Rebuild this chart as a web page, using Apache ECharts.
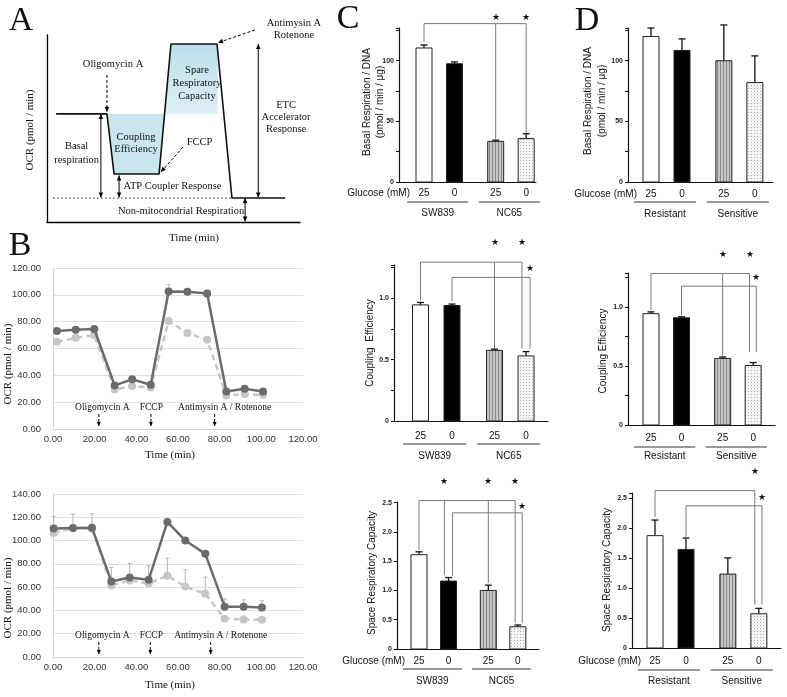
<!DOCTYPE html>
<html><head><meta charset="utf-8">
<script src="https://cdn.jsdelivr.net/npm/echarts@6/dist/echarts.min.js"></script>
<style>html,body{margin:0;padding:0;background:#fff}#c{width:787px;height:697px}</style>
</head><body><div id="c"></div><script>
// ---------------- DATA ----------------
// Panel A : schematic trace (arbitrary units)
const A_time = [3.6, 23.7, 26.5, 44.3, 49, 67.2, 73.1, 94.1];
const A_ocr  = [57.8, 57.8, 25.7, 25.7, 95.2, 95.2, 12.8, 12.8];

// Panel B (top)
const B1_time  = [1.9, 10.9, 19.8, 29.6, 38, 46.9, 55.5, 64.5, 74, 83.2, 92, 100.8];
const B1_dark  = [73, 74, 74.5, 32.5, 37, 33, 102.5, 102.3, 101, 28, 30, 28];
const B1_light = [65, 68, 70, 29.5, 32, 31, 80.5, 71.5, 66.5, 25, 26, 25.5];
const B1_darkErr  = [0, 0, 0, 0, 0, 0, 5, 0, 0, 0, 0, 0];
const B1_lightErr = [0, 0, 0, 0, 0, 0, 0, 0, 0, 0, 0, 0];
// Panel B (bottom)
const B2_time  = [0.3, 9.6, 18.7, 28, 36.8, 45.9, 54.9, 63.5, 73.1, 82.4, 91.5, 100.3];
const B2_dark  = [110.3, 110.9, 111.1, 64.9, 68.3, 66.3, 116, 100, 88.6, 43.1, 43.1, 42.6];
const B2_light = [106.6, 110.5, 110.3, 61.4, 65.7, 63.1, 69.7, 60.6, 54.3, 32.9, 32.3, 32];
const B2_darkErr  = [10.6, 12, 12, 12, 12, 12, 0, 0, 0, 6.6, 6, 5.7];
const B2_lightErr = [0, 0, 0, 0, 0, 0, 15, 14.3, 14.3, 0, 0, 0];
const injections = ['Oligomycin A', 'FCCP', 'Antimysin A / Rotenone'];
const B1_injTime = [22, 47, 77.6], B1_injLabel = [23.7, 47.2, 82.4];
const B2_injTime = [22, 46.7, 75.7], B2_injLabel = [23.7, 47.2, 80.5];

// Panels C / D
const barPos = [0, 1, 2.35, 3.35];
const glucose = ['25', '0', '25', '0'];
const groupsC = ['SW839', 'NC65'];
const groupsD = ['Resistant', 'Sensitive'];
const C_basal = [110.5, 97.5, 33.5, 35.8],   C_basalErr = [2.5, 1.5, 1, 4];
const C_coup  = [0.945, 0.94, 0.575, 0.53],  C_coupErr  = [0.02, 0.012, 0.01, 0.035];
const C_spare = [1.61, 1.16, 1.0, 0.38],     C_spareErr = [0.05, 0.06, 0.09, 0.03];
const D_basal = [120, 108.5, 100, 82],       D_basalErr = [7, 9.5, 29.5, 22];
const D_coup  = [0.945, 0.91, 0.565, 0.505], D_coupErr  = [0.015, 0.008, 0.012, 0.025];
const D_spare = [1.87, 1.64, 1.23, 0.57],    D_spareErr = [0.26, 0.19, 0.27, 0.09];
// significance brackets: x positions (bar units), level, drop ends
const C_basalBr = [{level: 130.6, xs: [0, 2.35, 3.35], ends: [115.7, 35.5, 40.5]}];
const C_basalStars = [[2.35, 136], [3.35, 136]];
const C_coupBr = [{level: 1.293, xs: [0, 2.35, 3.22], ends: [0.984, 0.589, 0.59]},
                  {level: 1.169, xs: [1, 3.48], ends: [0.976, 0.59]}];
const C_coupStars = [[2.35, 1.45], [3.22, 1.45], [3.48, 1.24]];
const C_spareBr = [{level: 2.535, xs: [0, 0.86, 2.35, 3.26], ends: [1.69, 1.265, 1.128, 0.44]},
                   {level: 2.325, xs: [1.14, 3.5], ends: [1.25, 0.44]}];
const C_spareStars = [[0.86, 2.855], [2.35, 2.855], [3.26, 2.855], [3.5, 2.44]];
const D_coupBr = [{level: 1.286, xs: [0, 2.35, 3.23], ends: [0.975, 0.585, 0.62]},
                  {level: 1.178, xs: [1, 3.45], ends: [0.932, 0.62]}];
const D_coupStars = [[2.35, 1.449], [3.23, 1.449], [3.45, 1.254]];
const D_spareBr = [{level: 2.62, xs: [0, 3.22], ends: [2.18, 0.72]},
                   {level: 2.367, xs: [1, 3.45], ends: [1.85, 0.72]}];
const D_spareStars = [[3.22, 2.93], [3.45, 2.5]];

// ---------------- HELPERS ----------------
const SANS = '"Liberation Sans", Arial, sans-serif';
const SERIF = '"Liberation Serif", "Times New Roman", serif';
const chart = echarts.init(document.getElementById('c'));
const zip = (a, b) => a.map((v, i) => [v, b[i]]);

function mkPattern(draw, w, h) {
  const c = document.createElement('canvas'); c.width = w; c.height = h;
  draw(c.getContext('2d')); return c;
}
const stripe = mkPattern(g => { g.fillStyle = '#c6c6c6'; g.fillRect(0, 0, 3, 3); g.fillStyle = '#8a8a8a'; g.fillRect(0, 0, 1, 3); }, 3, 3);
const dots = mkPattern(g => { g.fillStyle = '#f5f5f5'; g.fillRect(0, 0, 3, 3); g.fillStyle = '#b0b0b0'; g.fillRect(1, 1, 1, 1); }, 3, 3);
const barFills = ['#ffffff', '#000000', {image: stripe, repeat: 'repeat'}, {image: dots, repeat: 'repeat'}];

function txt(s, x, y, size, align, family, opts) {
  opts = opts || {};
  return {type: 'text', x, y, rotation: opts.rot || 0, silent: true,
    style: {text: s, fill: opts.color || '#111',
      font: (opts.weight || 'normal') + ' ' + size + 'px ' + (family || SANS),
      align: align || 'center', verticalAlign: 'middle',
      textAlign: align || 'center', textVerticalAlign: 'middle'}};
}
function seg(x1, y1, x2, y2, color, w, dash) {
  return {type: 'line', silent: true, shape: {x1, y1, x2, y2},
    style: {stroke: color || '#000', lineWidth: w || 1, lineDash: dash || null}};
}
function arrowEls(p1, p2, o) {
  o = o || {};
  const color = o.color || '#000';
  const els = [seg(p1[0], p1[1], p2[0], p2[1], color, o.w || 1, o.dash ? [3, 2] : null)];
  const head = (tip, from) => {
    const dx = tip[0] - from[0], dy = tip[1] - from[1], L = Math.hypot(dx, dy) || 1;
    const ux = dx / L, uy = dy / L, hl = o.hl || 5, hw = o.hw || 2.3;
    const bx = tip[0] - ux * hl, by = tip[1] - uy * hl;
    return {type: 'polygon', silent: true, shape: {points: [[tip[0], tip[1]], [bx - uy * hw, by + ux * hw], [bx + uy * hw, by - ux * hw]]}, style: {fill: color}};
  };
  if (o.end !== false) els.push(head(p2, p1));
  if (o.start) els.push(head(p1, p2));
  return els;
}
function annSeries(gi, build, z) {
  return {type: 'custom', xAxisIndex: gi, yAxisIndex: gi, clip: false, silent: true, z: z || 6,
    data: [[0, 0]], renderItem: (p, api) => ({type: 'group', children: build(api)})};
}

// ---------------- LAYOUT ----------------
const grids = [
  {left: 47, top: 35, width: 253, height: 187},   // 0 A
  {left: 53, top: 268, width: 250, height: 161},  // 1 B top
  {left: 53, top: 494, width: 250, height: 163},  // 2 B bottom
  {left: 399, top: 28, width: 137, height: 154},  // 3 C basal
  {left: 394, top: 265, width: 154, height: 156}, // 4 C coupling
  {left: 397, top: 502, width: 142, height: 147}, // 5 C spare
  {left: 628, top: 28, width: 145, height: 154},  // 6 D basal
  {left: 628, top: 273, width: 147, height: 152}, // 7 D coupling
  {left: 632, top: 493, width: 149, height: 155}  // 8 D spare
];
const barX = {3: [424, 30.5], 4: [420.5, 31.5], 5: [419, 29.5], 6: [651, 31], 7: [651, 30.5], 8: [655, 31]};
const barY = {3: [127, 25, 50], 4: [1.27, 0.25, 0.5], 5: [2.51, 0.5, 0.5], 6: [127, 25, 50], 7: [1.29, 0.25, 0.5], 8: [2.58, 0.5, 0.5]};

const xAxes = [], yAxes = [];
const hidden = {axisTick: {show: false}, axisLabel: {show: false}, splitLine: {show: false}};
xAxes.push(Object.assign({gridIndex: 0, type: 'value', min: 0, max: 100, axisLine: {onZero: false, lineStyle: {color: '#000', width: 1.3}}}, hidden));
yAxes.push(Object.assign({gridIndex: 0, type: 'value', min: 0, max: 100, axisLine: {show: true, onZero: false, lineStyle: {color: '#000', width: 1.3}}}, hidden));
[[1, 120], [2, 140]].forEach(([gi, ymax]) => {
  xAxes.push({gridIndex: gi, type: 'value', min: 0, max: 120, interval: 20,
    axisLine: {onZero: false, lineStyle: {color: '#d4d4d4'}}, axisTick: {show: false}, splitLine: {show: false},
    axisLabel: {formatter: v => v.toFixed(2), fontSize: 9.5, color: '#333', fontFamily: SANS, margin: 5}});
  yAxes.push({gridIndex: gi, type: 'value', min: 0, max: ymax, interval: 20,
    axisLine: {show: true, onZero: false, lineStyle: {color: '#d4d4d4'}}, axisTick: {show: false},
    splitLine: {lineStyle: {color: '#e0e0e0'}},
    axisLabel: {formatter: v => v.toFixed(2), fontSize: 9.5, color: '#333', fontFamily: SANS, margin: 12}});
});
[3, 4, 5, 6, 7, 8].forEach(gi => {
  const g = grids[gi], [x0, u] = barX[gi], [ymax, iv, lab] = barY[gi];
  xAxes.push(Object.assign({gridIndex: gi, type: 'value', min: (g.left - x0) / u, max: (g.left + g.width - x0) / u,
    axisLine: {onZero: false, lineStyle: {color: '#111', width: 1.2}}}, hidden));
  yAxes.push({gridIndex: gi, type: 'value', min: 0, max: ymax, interval: iv,
    axisLine: {show: true, onZero: false, lineStyle: {color: '#111', width: 1.2}},
    axisTick: {show: true, length: 3, lineStyle: {color: '#111'}}, splitLine: {show: false},
    axisLabel: {fontSize: 7, fontWeight: 'bold', color: '#222', fontFamily: SANS, margin: 5,
      formatter: v => {
        const k = v / lab; if (Math.abs(k - Math.round(k)) > 1e-6) return '';
        if (v === 0) return '0';
        return lab >= 1 ? String(Math.round(v)) : v.toFixed(1);
      }}});
});

// ---------------- SERIES ----------------
const series = [];
// Panel A fills, trace and annotations
series.push(annSeries(0, api => {
  const P = (x, y) => api.coord([x, y]);
  const b = A_ocr[0];
  const riseX = A_time[3] + (b - A_ocr[3]) / (A_ocr[4] - A_ocr[3]) * (A_time[4] - A_time[3]);
  return [
    {type: 'polygon', shape: {points: [P(A_time[1], b), P(A_time[2], A_ocr[2]), P(A_time[3], A_ocr[3]), P(riseX, b)]},
      style: {fill: '#c9e6ef'}},
    {type: 'polygon', shape: {points: [P(riseX, b), P(A_time[4], A_ocr[4]), P(A_time[5] + 0.3, A_ocr[5]), P(A_time[5] + 0.3, b)]},
      style: {fill: new echarts.graphic.LinearGradient(0, 0, 0, 1, [{offset: 0, color: '#b9dfea'}, {offset: 1, color: '#dff0f5'}])}}
  ];
}, 1));
series.push({type: 'line', xAxisIndex: 0, yAxisIndex: 0, data: zip(A_time, A_ocr), symbol: 'none', silent: true,
  lineStyle: {color: '#111', width: 1.6}, z: 3});
series.push(annSeries(0, api => {
  const P = (x, y) => api.coord([x, y]);
  const els = [];
  const d1 = P(2.4, A_ocr[6]), d2 = P(A_time[6], A_ocr[6]);
  els.push(seg(d1[0], d1[1], d2[0], d2[1], '#222', 1, [1.5, 2.5]));
  els.push(...arrowEls(P(23.7, 78.6), P(23.7, 59), {dash: true}));
  els.push(...arrowEls(P(53.8, 40.1), P(45, 26.7), {dash: true}));
  els.push(...arrowEls(P(82.2, 102.7), P(67.6, 95.9), {dash: true}));
  els.push(...arrowEls(P(21.3, 57.8), P(21.3, 13.1), {start: true}));
  els.push(...arrowEls(P(28.5, 24.9), P(28.5, 13.1), {start: true}));
  els.push(...arrowEls(P(83.5, 95.2), P(83.5, 13.1), {start: true}));
  els.push(...arrowEls(P(78.3, 12.8), P(78.3, 0.3), {start: true}));
  const T = (s, x, y, al) => { const c = P(x, y); return txt(s, c[0], c[1], 10.5, al || 'center', SERIF); };
  els.push(T('Oligomycin A', 26.1, 84.5));
  els.push(T('Spare', 59.3, 81.3), T('Respiratory', 59.3, 74.3), T('Capacity', 59.3, 67.4));
  els.push(T('Coupling', 35.2, 45.5), T('Efficiency', 35.2, 39));
  els.push(T('FCCP', 60.3, 42.9));
  els.push(T('Basal', 11.7, 40.3), T('respiration', 11.7, 33.2));
  els.push(T('ATP Coupler Response', 49.6, 18.9));
  els.push(T('Non-mitocondrial Respiration', 53, 6));
  els.push(T('Antimysin A', 97.6, 106.4), T('Rotenone', 97.6, 99.6));
  els.push(T('ETC', 94.5, 62.6), T('Accelerator', 94.5, 56.1), T('Response', 94.5, 49.6));
  return els;
}));

// Panel B
function errSeries(gi, times, vals, errs) {
  return {type: 'custom', xAxisIndex: gi, yAxisIndex: gi, clip: false, silent: true, z: 1,
    data: times.map((t, i) => [t, vals[i], errs[i]]),
    renderItem: (p, api) => {
      const e = api.value(2); if (!e) return null;
      const a = api.coord([api.value(0), api.value(1)]), b = api.coord([api.value(0), api.value(1) + e]);
      return {type: 'group', children: [seg(a[0], a[1], b[0], b[1], '#b4b4b4', 1), seg(b[0] - 2, b[1], b[0] + 2, b[1], '#b4b4b4', 1)]};
    }};
}
function injSeries(gi, times, labelX) {
  return annSeries(gi, api => {
    const els = [], base = api.coord([0, 0])[1];
    times.forEach((t, i) => {
      const x = api.coord([t, 0])[0];
      els.push(...arrowEls([x, base - 15], [x, base - 3], {dash: true, hl: 4, hw: 2}));
      els.push(txt(injections[i], api.coord([labelX[i], 0])[0], base - 22, 9.5, 'center', SERIF));
    });
    return els;
  });
}
[[1, B1_time, B1_dark, B1_light, B1_darkErr, B1_lightErr, B1_injTime, B1_injLabel],
 [2, B2_time, B2_dark, B2_light, B2_darkErr, B2_lightErr, B2_injTime, B2_injLabel]].forEach(([gi, t, d, l, de, le, it, il]) => {
  series.push(errSeries(gi, t, d, de), errSeries(gi, t, l, le));
  series.push({type: 'line', xAxisIndex: gi, yAxisIndex: gi, data: zip(t, l), symbol: 'circle', symbolSize: 8,
    silent: true, z: 3, lineStyle: {color: '#c6c6c6', width: 2.5, type: [6, 4]}, itemStyle: {color: '#c6c6c6'}});
  series.push({type: 'line', xAxisIndex: gi, yAxisIndex: gi, data: zip(t, d), symbol: 'circle', symbolSize: 8,
    silent: true, z: 4, lineStyle: {color: '#6b6b6b', width: 2.5}, itemStyle: {color: '#6b6b6b'}});
  series.push(injSeries(gi, it, il));
});

// Panels C / D bars
function barSeries(gi, vals, errs) {
  return {type: 'custom', xAxisIndex: gi, yAxisIndex: gi, clip: false, silent: true, z: 3,
    data: vals.map((v, i) => [barPos[i], v, errs[i], i]),
    renderItem: (p, api) => {
      const x = api.value(0), v = api.value(1), e = api.value(2), i = api.value(3);
      const top = api.coord([x, v]), base = api.coord([x, 0]), cap = api.coord([x, v + e]);
      const w = 16;
      return {type: 'group', children: [
        seg(top[0], top[1], cap[0], cap[1], '#111', 1.3),
        seg(cap[0] - 3.5, cap[1], cap[0] + 3.5, cap[1], '#111', 1.3),
        {type: 'rect', shape: {x: top[0] - w / 2, y: top[1], width: w, height: base[1] - top[1]},
          style: {fill: barFills[i], stroke: '#222', lineWidth: 1}}
      ]};
    }};
}
function bracketSeries(gi, brackets, stars) {
  return annSeries(gi, api => {
    const els = [];
    brackets.forEach(b => {
      const pts = b.xs.map(x => api.coord([x, b.level]));
      const y = pts[0][1];
      els.push(seg(pts[0][0], y, pts[pts.length - 1][0], y, '#7a7a7a', 1));
      b.xs.forEach((x, i) => { const e = api.coord([x, b.ends[i]]); els.push(seg(e[0], y, e[0], e[1], '#7a7a7a', 1)); });
    });
    stars.forEach(s => { const c = api.coord(s); els.push(txt('★', c[0], c[1], 9)); });
    return els;
  });
}
function catSeries(gi, groups, offs, showGlucose) {
  return annSeries(gi, api => {
    const els = [], base = api.coord([0, 0])[1];
    barPos.forEach((p, i) => els.push(txt(glucose[i], api.coord([p, 0])[0], base + offs[0], 10)));
    if (showGlucose) els.push(txt('Glucose (mM)', api.coord([barPos[0], 0])[0] - 14, base + offs[0], 10, 'right'));
    groups.forEach((g, k) => {
      const a = api.coord([barPos[2 * k] - 0.55, 0])[0], b = api.coord([barPos[2 * k + 1] + 0.45, 0])[0];
      els.push(seg(a, base + offs[1], b, base + offs[1], '#333', 1.2));
      els.push(txt(g, (a + b) / 2, base + offs[2], 10));
    });
    return els;
  });
}
series.push(barSeries(3, C_basal, C_basalErr), bracketSeries(3, C_basalBr, C_basalStars), catSeries(3, groupsC, [11, 20, 31], true));
series.push(barSeries(4, C_coup, C_coupErr), bracketSeries(4, C_coupBr, C_coupStars), catSeries(4, groupsC, [15, 23, 35], false));
series.push(barSeries(5, C_spare, C_spareErr), bracketSeries(5, C_spareBr, C_spareStars), catSeries(5, groupsC, [12, 20, 32], true));
series.push(barSeries(6, D_basal, D_basalErr), catSeries(6, groupsD, [12, 20, 32], true));
series.push(barSeries(7, D_coup, D_coupErr), bracketSeries(7, D_coupBr, D_coupStars), catSeries(7, groupsD, [13, 22, 31], false));
series.push(barSeries(8, D_spare, D_spareErr), bracketSeries(8, D_spareBr, D_spareStars), catSeries(8, groupsD, [13, 22, 33], true));

// ---------------- TEXT (titles / axis names) ----------------
const R = Math.PI / 2;
const graphic = [
  txt('A', 21, 21, 34, 'center', SERIF), txt('B', 20, 246, 34, 'center', SERIF),
  txt('C', 348, 19, 34, 'center', SERIF), txt('D', 587, 21, 34, 'center', SERIF),
  txt('OCR (pmol / min)', 30, 130, 11, 'center', SERIF, {rot: R}),
  txt('Time (min)', 194, 238, 11, 'center', SERIF),
  txt('OCR (pmol / min)', 8, 364, 11, 'center', SERIF, {rot: R}),
  txt('Time (min)', 170, 455, 11, 'center', SERIF),
  txt('OCR (pmol / min)', 8, 598, 11, 'center', SERIF, {rot: R}),
  txt('Time (min)', 170, 685, 11, 'center', SERIF),
  txt('Basal Respiration / DNA', 367, 102, 10, 'center', SANS, {rot: R}),
  txt('(pmol / min / μg)', 380, 102, 10, 'center', SANS, {rot: R}),
  txt('Coupling  Efficiency', 370, 343, 10, 'center', SANS, {rot: R}),
  txt('Space Respiratory Capacity', 372, 573, 10, 'center', SANS, {rot: R}),
  txt('Basal Respiration / DNA', 588, 101, 10, 'center', SANS, {rot: R}),
  txt('(pmol / min / μg)', 602, 101, 10, 'center', SANS, {rot: R}),
  txt('Coupling Efficiency', 603, 351, 10, 'center', SANS, {rot: R}),
  txt('Space Respiratory Capacity', 607, 570, 10, 'center', SANS, {rot: R})
];

chart.setOption({
  backgroundColor: '#ffffff',
  animation: false,
  grid: grids,
  xAxis: xAxes,
  yAxis: yAxes,
  series: series,
  graphic: graphic
});
</script></body></html>
